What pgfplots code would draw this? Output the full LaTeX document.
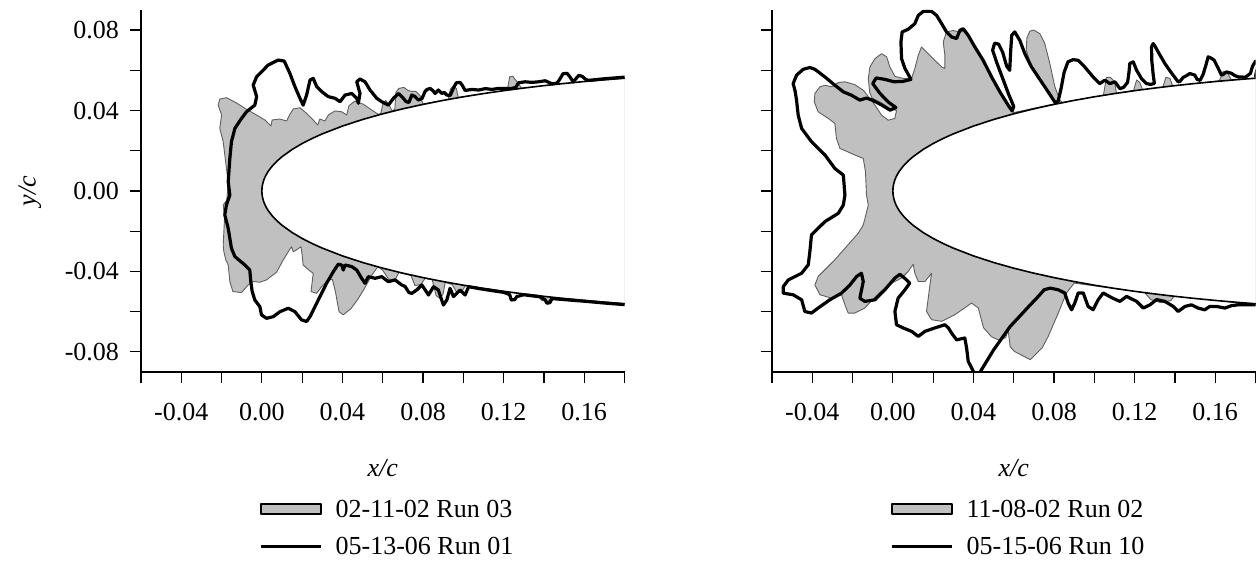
\documentclass[border=0pt]{standalone}
\usepackage{fontspec}
\setmainfont{Liberation Serif}
\usepackage{pgfplots}
\usepackage{pgfplotstable}
\pgfplotsset{compat=1.18}
\definecolor{icegray}{RGB}{192,192,192}
\definecolor{edgegray}{RGB}{95,95,95}

\pgfplotstableread{
x y
0.18 0.05607
0.17 0.05529
0.16 0.05442
0.15 0.05345
0.14 0.05238
0.13 0.05119
0.12 0.04988
0.11 0.04843
0.10 0.04683
0.09 0.04505
0.08 0.04307
0.07 0.04086
0.06 0.03838
0.05 0.03555
0.04 0.03228
0.03 0.02840
0.025 0.02615
0.02 0.02360
0.015 0.02064
0.01 0.01704
0.0075 0.01485
0.005 0.01221
0.0035 0.01027
0.0025 0.00872
0.0015 0.00679
0.0008 0.00498
0.0003 0.00306
0.0001 0.00177
0 0
0.0001 -0.00177
0.0003 -0.00306
0.0008 -0.00498
0.0015 -0.00679
0.0025 -0.00872
0.0035 -0.01027
0.005 -0.01221
0.0075 -0.01485
0.01 -0.01704
0.015 -0.02064
0.02 -0.02360
0.025 -0.02615
0.03 -0.02840
0.04 -0.03228
0.05 -0.03555
0.06 -0.03838
0.07 -0.04086
0.08 -0.04307
0.09 -0.04505
0.10 -0.04683
0.11 -0.04843
0.12 -0.04988
0.13 -0.05119
0.14 -0.05238
0.15 -0.05345
0.16 -0.05442
0.17 -0.05529
0.18 -0.05607
}\airfoil

% left panel: 02-11-02 Run 03 (gray ice)
\pgfplotstableread{
x y
0.1800 0.0561
0.1290 0.0510
0.1265 0.0545
0.1245 0.0570
0.1230 0.0568
0.1218 0.0500
0.0975 0.0465
0.0965 0.0510
0.0950 0.0522
0.0935 0.0505
0.0925 0.0455
0.0800 0.0432
0.0785 0.0475
0.0765 0.0495
0.0745 0.0495
0.0725 0.0500
0.0705 0.0515
0.0680 0.0510
0.0665 0.0490
0.0660 0.0405
0.0645 0.0400
0.0630 0.0430
0.0615 0.0450
0.0600 0.0430
0.0590 0.0385
0.0578 0.0381
0.0545 0.0403
0.0504 0.0431
0.0462 0.0447
0.0432 0.0424
0.0421 0.0378
0.0396 0.0394
0.0363 0.0398
0.0330 0.0378
0.0313 0.0348
0.0288 0.0358
0.0277 0.0328
0.0255 0.0353
0.0222 0.0386
0.0189 0.0414
0.0156 0.0408
0.0139 0.0381
0.0123 0.0348
0.0089 0.0358
0.0051 0.0353
0.0045 0.0323
0.0015 0.0353
-0.0027 0.0378
-0.0084 0.0411
-0.0130 0.0440
-0.0176 0.0464
-0.0209 0.0457
-0.0217 0.0427
-0.0200 0.0378
-0.0209 0.0311
-0.0192 0.0245
-0.0184 0.0179
-0.0176 0.0113
-0.0167 0.0046
-0.0174 -0.0045
-0.0192 -0.0070
-0.0185 -0.0128
-0.0192 -0.0268
-0.0189 -0.0300
-0.0179 -0.0343
-0.0167 -0.0368
-0.0159 -0.0450
-0.0144 -0.0500
-0.0101 -0.0505
-0.0068 -0.0467
-0.0043 -0.0450
-0.0010 -0.0454
0.0023 -0.0442
0.0073 -0.0404
0.0106 -0.0343
0.0131 -0.0302
0.0147 -0.0277
0.0156 -0.0302
0.0172 -0.0293
0.0194 -0.0277
0.0200 -0.0318
0.0205 -0.0368
0.0239 -0.0398
0.0255 -0.0409
0.0250 -0.0450
0.0244 -0.0500
0.0272 -0.0509
0.0297 -0.0475
0.0330 -0.0442
0.0350 -0.0440
0.0365 -0.0500
0.0383 -0.0600
0.0404 -0.0616
0.0444 -0.0583
0.0475 -0.0540
0.0505 -0.0492
0.0546 -0.0418
0.0576 -0.0376
0.0600 -0.0395
0.0630 -0.0440
0.0660 -0.0445
0.0680 -0.0405
0.0740 -0.0420
0.0760 -0.0470
0.0790 -0.0465
0.0810 -0.0435
0.0845 -0.0440
0.0865 -0.0520
0.0885 -0.0535
0.0900 -0.0510
0.0910 -0.0455
0.0945 -0.0465
0.0965 -0.0500
0.0990 -0.0505
0.1010 -0.0470
0.1370 -0.0520
0.1390 -0.0545
0.1420 -0.0548
0.1440 -0.0530
0.1800 -0.0561
}\leftgray

% left panel: 05-13-06 Run 01 (black line)
\pgfplotstableread{
x y
0.1800 0.0566
0.1700 0.0558
0.1620 0.0550
0.1606 0.0556
0.1590 0.0570
0.1573 0.0575
0.1556 0.0555
0.1545 0.0542
0.1531 0.0565
0.1515 0.0585
0.1495 0.0583
0.1478 0.0555
0.1465 0.0536
0.1440 0.0533
0.1407 0.0548
0.1374 0.0543
0.1340 0.0540
0.1307 0.0543
0.1274 0.0538
0.1260 0.0515
0.1241 0.0510
0.1208 0.0510
0.1175 0.0510
0.1142 0.0505
0.1109 0.0509
0.1076 0.0502
0.1043 0.0505
0.1009 0.0500
0.0995 0.0525
0.0984 0.0540
0.0965 0.0538
0.0950 0.0510
0.0935 0.0475
0.0918 0.0477
0.0905 0.0490
0.0893 0.0485
0.0876 0.0502
0.0860 0.0485
0.0848 0.0500
0.0835 0.0510
0.0820 0.0505
0.0810 0.0495
0.0795 0.0460
0.0777 0.0452
0.0760 0.0470
0.0744 0.0477
0.0730 0.0440
0.0715 0.0445
0.0702 0.0461
0.0678 0.0485
0.0653 0.0461
0.0628 0.0427
0.0595 0.0444
0.0570 0.0461
0.0537 0.0502
0.0512 0.0543
0.0487 0.0557
0.0471 0.0543
0.0487 0.0485
0.0479 0.0436
0.0471 0.0461
0.0446 0.0485
0.0413 0.0477
0.0388 0.0444
0.0363 0.0461
0.0330 0.0469
0.0297 0.0494
0.0272 0.0519
0.0255 0.0560
0.0239 0.0552
0.0222 0.0477
0.0205 0.0427
0.0189 0.0461
0.0164 0.0519
0.0139 0.0585
0.0111 0.0646
0.0081 0.0651
0.0031 0.0626
-0.0026 0.0568
-0.0043 0.0527
-0.0026 0.0469
-0.0035 0.0427
-0.0076 0.0394
-0.0101 0.0361
-0.0134 0.0311
-0.0151 0.0245
-0.0159 0.0162
-0.0167 0.0046
-0.0159 -0.0020
-0.0176 -0.0070
-0.0184 -0.0119
-0.0167 -0.0186
-0.0151 -0.0285
-0.0134 -0.0326
-0.0084 -0.0368
-0.0060 -0.0393
-0.0055 -0.0450
-0.0048 -0.0500
-0.0035 -0.0542
-0.0010 -0.0575
-0.0002 -0.0616
0.0023 -0.0633
0.0056 -0.0625
0.0090 -0.0600
0.0131 -0.0583
0.0164 -0.0600
0.0197 -0.0641
0.0222 -0.0649
0.0239 -0.0625
0.0280 -0.0542
0.0321 -0.0459
0.0355 -0.0401
0.0379 -0.0364
0.0396 -0.0368
0.0404 -0.0393
0.0413 -0.0368
0.0446 -0.0376
0.0471 -0.0393
0.0495 -0.0434
0.0512 -0.0459
0.0528 -0.0426
0.0562 -0.0434
0.0595 -0.0426
0.0628 -0.0451
0.0661 -0.0442
0.0694 -0.0467
0.0711 -0.0475
0.0730 -0.0505
0.0744 -0.0509
0.0769 -0.0492
0.0794 -0.0467
0.0827 -0.0517
0.0852 -0.0476
0.0876 -0.0492
0.0901 -0.0567
0.0918 -0.0542
0.0934 -0.0484
0.0951 -0.0525
0.0984 -0.0492
0.1009 -0.0517
0.1026 -0.0476
0.1100 -0.0489
0.1200 -0.0504
0.1230 -0.0515
0.1238 -0.0542
0.1255 -0.0540
0.1265 -0.0525
0.1300 -0.0516
0.1380 -0.0526
0.1405 -0.0540
0.1415 -0.0558
0.1430 -0.0555
0.1440 -0.0535
0.1500 -0.0540
0.1600 -0.0548
0.1700 -0.0557
0.1800 -0.0565
}\leftblack

% right panel: 11-08-02 Run 02 (gray ice)
\pgfplotstableread{
x y
0.1800 0.0561
0.1680 0.0552
0.1660 0.0590
0.1640 0.0595
0.1620 0.0548
0.1390 0.0520
0.1375 0.0560
0.1355 0.0565
0.1340 0.0515
0.1240 0.0503
0.1225 0.0540
0.1210 0.0552
0.1195 0.0500
0.1110 0.0486
0.1100 0.0545
0.1080 0.0565
0.1060 0.0565
0.1045 0.0475
0.0840 0.0440
0.0829 0.0452
0.0804 0.0518
0.0779 0.0634
0.0754 0.0733
0.0730 0.0782
0.0700 0.0800
0.0680 0.0795
0.0665 0.0760
0.0662 0.0700
0.0688 0.0617
0.0721 0.0567
0.0754 0.0518
0.0790 0.0462
0.0812 0.0435
0.0600 0.0390
0.0572 0.0430
0.0531 0.0490
0.0490 0.0565
0.0448 0.0648
0.0407 0.0712
0.0374 0.0768
0.0349 0.0795
0.0333 0.0790
0.0300 0.0798
0.0266 0.0791
0.0250 0.0741
0.0258 0.0675
0.0258 0.0609
0.0242 0.0617
0.0208 0.0650
0.0167 0.0691
0.0142 0.0716
0.0126 0.0675
0.0109 0.0609
0.0093 0.0560
0.0050 0.0560
0.0010 0.0570
-0.0015 0.0617
-0.0031 0.0667
-0.0056 0.0683
-0.0089 0.0658
-0.0114 0.0617
-0.0122 0.0559
-0.0115 0.0490
-0.0103 0.0462
-0.0060 0.0440
-0.0014 0.0410
0.0018 0.0400
0.0010 0.0361
-0.0023 0.0352
-0.0056 0.0377
-0.0089 0.0427
-0.0114 0.0460
-0.0147 0.0501
-0.0189 0.0529
-0.0238 0.0543
-0.0271 0.0539
-0.0304 0.0518
-0.0337 0.0526
-0.0362 0.0518
-0.0387 0.0485
-0.0390 0.0443
-0.0371 0.0394
-0.0321 0.0361
-0.0288 0.0336
-0.0280 0.0261
-0.0263 0.0212
-0.0189 0.0179
-0.0147 0.0162
-0.0136 0.0096
-0.0131 -0.0020
-0.0122 -0.0070
-0.0147 -0.0169
-0.0172 -0.0210
-0.0238 -0.0285
-0.0288 -0.0342
-0.0371 -0.0425
-0.0387 -0.0467
-0.0362 -0.0516
-0.0304 -0.0533
-0.0255 -0.0516
-0.0238 -0.0566
-0.0222 -0.0607
-0.0189 -0.0607
-0.0140 -0.0582
-0.0100 -0.0540
-0.0060 -0.0500
-0.0010 -0.0460
0.0043 -0.0433
0.0076 -0.0400
0.0101 -0.0364
0.0109 -0.0409
0.0126 -0.0450
0.0159 -0.0450
0.0192 -0.0409
0.0184 -0.0467
0.0167 -0.0599
0.0192 -0.0640
0.0242 -0.0648
0.0308 -0.0615
0.0391 -0.0557
0.0424 -0.0582
0.0450 -0.0680
0.0490 -0.0725
0.0523 -0.0740
0.0560 -0.0730
0.0572 -0.0690
0.0582 -0.0773
0.0602 -0.0797
0.0682 -0.0839
0.0741 -0.0780
0.0771 -0.0723
0.0821 -0.0607
0.0861 -0.0508
0.0900 -0.0458
0.1250 -0.0505
0.1280 -0.0540
0.1330 -0.0555
0.1380 -0.0545
0.1400 -0.0517
0.1700 -0.0555
0.1720 -0.0570
0.1760 -0.0568
0.1800 -0.0561
}\rightgray

% right panel: 05-15-06 Run 10 (black line)
\pgfplotstableread{
x y
0.1800 0.0570
0.1813 0.0630
0.1800 0.0645
0.1785 0.0620
0.1775 0.0585
0.1750 0.0566
0.1714 0.0567
0.1695 0.0575
0.1681 0.0585
0.1656 0.0592
0.1640 0.0580
0.1631 0.0576
0.1615 0.0610
0.1595 0.0650
0.1581 0.0660
0.1565 0.0667
0.1555 0.0630
0.1540 0.0580
0.1525 0.0550
0.1510 0.0555
0.1499 0.0576
0.1474 0.0584
0.1455 0.0572
0.1441 0.0565
0.1425 0.0545
0.1416 0.0543
0.1391 0.0576
0.1370 0.0605
0.1350 0.0634
0.1317 0.0691
0.1300 0.0722
0.1292 0.0733
0.1284 0.0716
0.1285 0.0650
0.1292 0.0580
0.1298 0.0535
0.1280 0.0530
0.1259 0.0534
0.1234 0.0559
0.1210 0.0600
0.1193 0.0642
0.1176 0.0634
0.1172 0.0590
0.1165 0.0540
0.1145 0.0515
0.1127 0.0509
0.1102 0.0543
0.1077 0.0534
0.1052 0.0551
0.1027 0.0534
0.0994 0.0567
0.0952 0.0617
0.0919 0.0650
0.0894 0.0653
0.0869 0.0642
0.0850 0.0590
0.0835 0.0510
0.0820 0.0445
0.0805 0.0440
0.0787 0.0468
0.0754 0.0518
0.0721 0.0567
0.0688 0.0617
0.0655 0.0683
0.0630 0.0749
0.0605 0.0791
0.0590 0.0775
0.0585 0.0700
0.0580 0.0600
0.0565 0.0620
0.0545 0.0690
0.0525 0.0730
0.0505 0.0735
0.0495 0.0700
0.0515 0.0640
0.0545 0.0560
0.0575 0.0480
0.0600 0.0420
0.0592 0.0398
0.0572 0.0427
0.0531 0.0493
0.0490 0.0567
0.0448 0.0650
0.0407 0.0716
0.0374 0.0774
0.0349 0.0807
0.0333 0.0799
0.0316 0.0758
0.0291 0.0766
0.0266 0.0791
0.0242 0.0832
0.0217 0.0873
0.0192 0.0893
0.0151 0.0893
0.0126 0.0873
0.0109 0.0832
0.0076 0.0804
0.0046 0.0791
0.0040 0.0741
0.0043 0.0658
0.0060 0.0609
0.0090 0.0555
0.0050 0.0545
0.0006 0.0543
-0.0040 0.0555
-0.0083 0.0562
-0.0100 0.0534
-0.0064 0.0485
-0.0020 0.0440
0.0015 0.0415
-0.0014 0.0402
-0.0060 0.0430
-0.0103 0.0452
-0.0131 0.0462
-0.0164 0.0452
-0.0205 0.0476
-0.0246 0.0493
-0.0288 0.0526
-0.0337 0.0567
-0.0387 0.0605
-0.0412 0.0614
-0.0445 0.0605
-0.0478 0.0576
-0.0495 0.0534
-0.0485 0.0495
-0.0478 0.0450
-0.0470 0.0377
-0.0453 0.0311
-0.0404 0.0245
-0.0337 0.0179
-0.0288 0.0112
-0.0246 0.0079
-0.0238 -0.0020
-0.0246 -0.0070
-0.0271 -0.0111
-0.0337 -0.0152
-0.0404 -0.0218
-0.0412 -0.0301
-0.0420 -0.0367
-0.0453 -0.0409
-0.0519 -0.0442
-0.0544 -0.0475
-0.0544 -0.0508
-0.0495 -0.0516
-0.0453 -0.0541
-0.0437 -0.0599
-0.0404 -0.0607
-0.0371 -0.0582
-0.0313 -0.0541
-0.0255 -0.0508
-0.0213 -0.0467
-0.0180 -0.0425
-0.0156 -0.0409
-0.0147 -0.0450
-0.0164 -0.0533
-0.0139 -0.0549
-0.0089 -0.0541
-0.0040 -0.0491
0.0010 -0.0433
0.0035 -0.0414
0.0068 -0.0442
0.0084 -0.0458
0.0060 -0.0491
0.0026 -0.0533
0.0010 -0.0599
0.0018 -0.0665
0.0051 -0.0681
0.0093 -0.0698
0.0126 -0.0723
0.0159 -0.0698
0.0208 -0.0681
0.0258 -0.0665
0.0275 -0.0680
0.0291 -0.0706
0.0316 -0.0740
0.0357 -0.0731
0.0366 -0.0781
0.0374 -0.0847
0.0399 -0.0896
0.0410 -0.0930
0.0425 -0.0930
0.0433 -0.0900
0.0500 -0.0790
0.0582 -0.0674
0.0682 -0.0566
0.0722 -0.0524
0.0751 -0.0491
0.0781 -0.0483
0.0820 -0.0491
0.0853 -0.0507
0.0870 -0.0557
0.0887 -0.0591
0.0903 -0.0557
0.0920 -0.0507
0.0945 -0.0507
0.0969 -0.0574
0.0994 -0.0590
0.1019 -0.0541
0.1044 -0.0507
0.1085 -0.0530
0.1127 -0.0549
0.1160 -0.0524
0.1210 -0.0549
0.1243 -0.0582
0.1276 -0.0566
0.1309 -0.0540
0.1350 -0.0549
0.1392 -0.0574
0.1416 -0.0599
0.1450 -0.0574
0.1482 -0.0566
0.1515 -0.0582
0.1548 -0.0591
0.1573 -0.0574
0.1606 -0.0574
0.1648 -0.0582
0.1681 -0.0570
0.1714 -0.0566
0.1800 -0.0566
}\rightblack

\pgfplotsset{
  iceaxis/.style={
    scale only axis, width=241.75bp, height=181bp,
    xmin=-0.06, xmax=0.18, ymin=-0.09, ymax=0.09,
    axis x line=bottom, axis y line=left,
    axis line style={-, line width=0.6bp},
    every tick/.style={black, line width=0.6bp},
    tick align=outside, major tick length=5.5bp,
    xtick={-0.06,-0.04,-0.02,0,0.02,0.04,0.06,0.08,0.10,0.12,0.14,0.16,0.18},
    xticklabels={{},{-0.04},{},{0.00},{},{0.04},{},{0.08},{},{0.12},{},{0.16},{}},
    ytick={-0.08,-0.06,-0.04,-0.02,0,0.02,0.04,0.06,0.08},
    tick label style={font=\fontsize{13bp}{15bp}\selectfont},
    xticklabel style={yshift=-6.5bp},
    yticklabel style={xshift=-2bp},
    label style={font=\fontsize{13bp}{15bp}\selectfont\itshape},
    xlabel={x/c},
    xlabel style={at={(axis description cs:0.5,-0.2652)}, anchor=center},
    legend style={draw=none, fill=none, at={(0.2443,-0.4296)}, anchor=west,
      inner sep=0pt, outer sep=0pt, row sep=8bp,
      font=\fontsize{13bp}{15bp}\selectfont,
      nodes={inner sep=0pt, text height=9.5bp, text depth=1bp}},
    legend cell align=left,
    clip=true,
  },
  graylegend/.style={legend image code/.code={
      \draw[fill=icegray, draw=black, line width=0.9bp] (0bp,-2.5bp) rectangle (30bp,2.5bp);
      \path[draw=none, fill=none] (0bp,0bp) rectangle (37.5bp,0.1bp);}},
  blacklegend/.style={legend image code/.code={
      \draw[black, line width=1.5bp, line cap=butt] (0bp,0bp) -- (30bp,0bp);
      \path[draw=none, fill=none] (0bp,-2.5bp) rectangle (37.5bp,2.5bp);}},
  grayice/.style={fill=icegray, draw=edgegray, line width=0.45bp, line join=round},
  blackice/.style={draw=black, line width=1.6bp, line join=round, line cap=round},
}

\begin{document}
\begin{tikzpicture}
\useasboundingbox (-70.5bp,-94.5bp) rectangle (558.5bp,186bp);
\begin{axis}[iceaxis,
  yticklabels={{-0.08},{},{-0.04},{},{0.00},{},{0.04},{},{0.08}},
  ylabel={y/c},
  ylabel style={at={(axis description cs:-0.2298,0.5)}, anchor=center},
]
\addplot[grayice, graylegend] table[x=x,y=y] {\leftgray};
\addlegendentry{02-11-02 Run 03}
\addplot[fill=white, draw=none, forget plot] table[x=x,y=y] {\airfoil};
\addplot[black, line width=0.8bp, forget plot] table[x=x,y=y] {\airfoil};
\addplot[blackice, blacklegend] table[x=x,y=y] {\leftblack};
\addlegendentry{05-13-06 Run 01}
\end{axis}
\begin{axis}[iceaxis, at={(315.5bp,0bp)},
  yticklabels={},
]
\addplot[grayice, graylegend] table[x=x,y=y] {\rightgray};
\addlegendentry{11-08-02 Run 02}
\addplot[fill=white, draw=none, forget plot] table[x=x,y=y] {\airfoil};
\addplot[black, line width=0.8bp, forget plot] table[x=x,y=y] {\airfoil};
\addplot[blackice, blacklegend] table[x=x,y=y] {\rightblack};
\addlegendentry{05-15-06 Run 10}
\end{axis}
\end{tikzpicture}
\end{document}
